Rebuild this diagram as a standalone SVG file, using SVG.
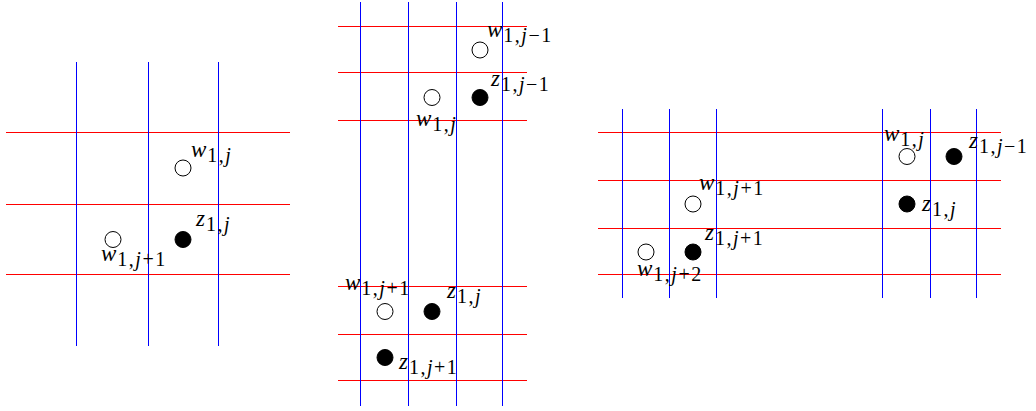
<svg xmlns="http://www.w3.org/2000/svg" width="1036" height="411" viewBox="0 0 1036 411">
<style>
.r{stroke:#ff0000;stroke-width:1;fill:none}
.b{stroke:#0000ff;stroke-width:1;fill:none}
.o{fill:#fff;stroke:#000;stroke-width:1}
.f{fill:#000;stroke:#000;stroke-width:1}
.t{font-family:"Liberation Serif","DejaVu Serif",serif;font-size:23px;font-style:italic;fill:#000}
.s{font-size:20px;font-style:normal;letter-spacing:1.5px}
.i{font-style:italic}
</style>
<rect width="1036" height="411" fill="#fff"/>
<g id="grid">
<path class="r" d="M6 132.5H290M6 204.5H290M6 274.5H290"/>
<path class="b" d="M76.5 62V346M148.5 62V346M218.5 62V346"/>
<path class="r" d="M338 26.5H527M338 72.5H527M338 120.5H527M338 286.5H527M338 334.5H527M338 380.5H527"/>
<path class="b" d="M360.5 2V406M408.5 2V406M456.5 2V406M502.5 2V406"/>
<path class="r" d="M598 132.5H1001M598 180.5H1001M598 228.5H1001M598 274.5H1001"/>
<path class="b" d="M622.5 109V298M669.5 109V298M716.5 109V298M882.5 109V298M930.5 109V298M976.5 109V298"/>
</g>
<g id="p1-w1j"><circle class="o" cx="183" cy="168" r="8"/><text class="t" x="191" y="157">w<tspan class="s" dx="1" dy="5">1,<tspan class="i">j</tspan></tspan></text></g>
<g id="p1-z1j"><circle class="f" cx="183" cy="239.5" r="8"/><text class="t" x="196" y="226">z<tspan class="s" dx="1" dy="5">1,<tspan class="i">j</tspan></tspan></text></g>
<g id="p1-w1j1"><circle class="o" cx="113" cy="239.5" r="8"/><text class="t" x="101" y="261">w<tspan class="s" dx="1" dy="5">1,<tspan class="i">j</tspan>+1</tspan></text></g>
<g id="p2-w1jm1"><circle class="o" cx="480" cy="50" r="8"/><text class="t" x="487" y="37">w<tspan class="s" dx="1" dy="5">1,<tspan class="i">j</tspan>−1</tspan></text></g>
<g id="p2-z1jm1"><circle class="f" cx="480" cy="97.5" r="8"/><text class="t" x="491" y="86">z<tspan class="s" dx="1" dy="5">1,<tspan class="i">j</tspan>−1</tspan></text></g>
<g id="p2-w1j"><circle class="o" cx="432" cy="97.5" r="8"/><text class="t" x="416" y="126">w<tspan class="s" dx="1" dy="5">1,<tspan class="i">j</tspan></tspan></text></g>
<g id="p2-w1j1"><circle class="o" cx="385" cy="311.5" r="8"/><text class="t" x="345" y="290">w<tspan class="s" dx="1" dy="5">1,<tspan class="i">j</tspan>+1</tspan></text></g>
<g id="p2-z1j"><circle class="f" cx="432" cy="311.5" r="8"/><text class="t" x="447" y="298">z<tspan class="s" dx="1" dy="5">1,<tspan class="i">j</tspan></tspan></text></g>
<g id="p2-z1j1"><circle class="f" cx="385" cy="357.5" r="8"/><text class="t" x="399" y="369">z<tspan class="s" dx="1" dy="5">1,<tspan class="i">j</tspan>+1</tspan></text></g>
<g id="p3-w1j1"><circle class="o" cx="693" cy="204" r="8"/><text class="t" x="699" y="190">w<tspan class="s" dx="1" dy="5">1,<tspan class="i">j</tspan>+1</tspan></text></g>
<g id="p3-z1j1"><circle class="f" cx="693" cy="252" r="8"/><text class="t" x="705" y="240">z<tspan class="s" dx="1" dy="5">1,<tspan class="i">j</tspan>+1</tspan></text></g>
<g id="p3-w1j2"><circle class="o" cx="646" cy="252" r="8"/><text class="t" x="637" y="276">w<tspan class="s" dx="1" dy="5">1,<tspan class="i">j</tspan>+2</tspan></text></g>
<g id="p3-w1j"><circle class="o" cx="907" cy="156.5" r="8"/><text class="t" x="884" y="141">w<tspan class="s" dx="1" dy="5">1,<tspan class="i">j</tspan></tspan></text></g>
<g id="p3-z1jm1"><circle class="f" cx="954" cy="156.5" r="8"/><text class="t" x="969" y="148">z<tspan class="s" dx="1" dy="5">1,<tspan class="i">j</tspan>−1</tspan></text></g>
<g id="p3-z1j"><circle class="f" cx="907" cy="204" r="8"/><text class="t" x="922" y="211">z<tspan class="s" dx="1" dy="5">1,<tspan class="i">j</tspan></tspan></text></g>
</svg>
